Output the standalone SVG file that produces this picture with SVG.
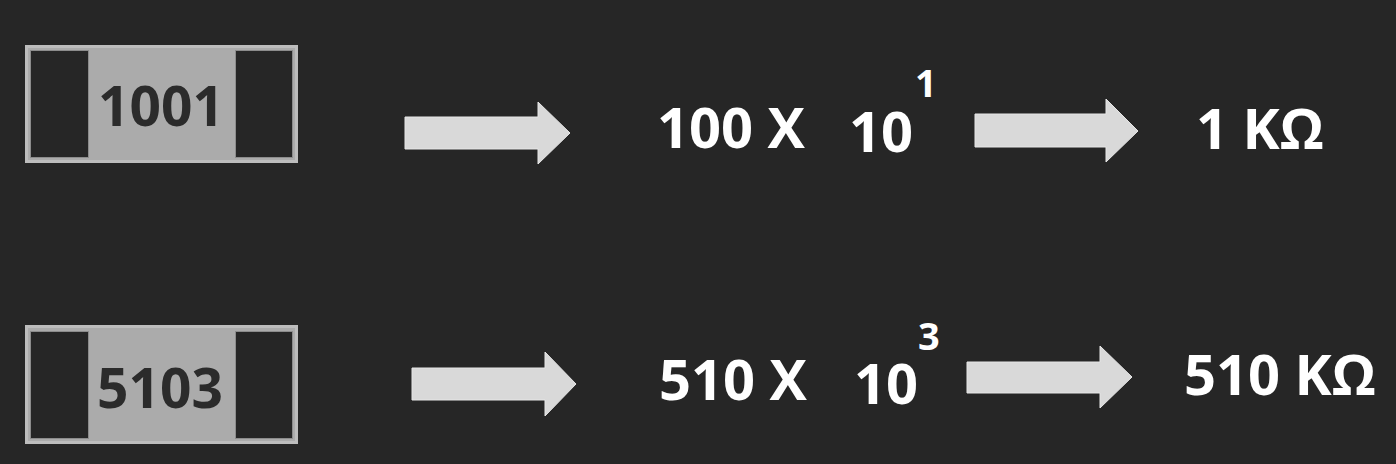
<svg xmlns="http://www.w3.org/2000/svg" width="1396" height="464" viewBox="0 0 1396 464">
  <style>
    .bg { fill: #262626; }
    .body { fill: #ababab; stroke: #bdbdbd; stroke-width: 3; }
    .pad { fill: #262626; stroke: #8c8c8c; stroke-width: 1; }
    .code { font-family: "Open Sans", "Liberation Sans", sans-serif; font-weight: 700; font-size: 55px; fill: #2b2b2b; text-anchor: middle; }
    .t { font-family: "Open Sans", "Liberation Sans", sans-serif; font-weight: 700; font-size: 56px; fill: #ffffff; }
    .sup { font-family: "Open Sans", "Liberation Sans", sans-serif; font-weight: 700; font-size: 38px; fill: #ffffff; }
    .arrow { fill: #d9d9d9; stroke: #e6e6e6; stroke-width: 1; }
  </style>
  <rect class="bg" x="0" y="0" width="1396" height="464"/>

  <g id="resistor-1001">
    <rect class="body" x="26.5" y="46.5" width="270" height="115"/>
    <rect class="pad" x="30.5" y="50.5" width="58" height="107"/>
    <rect class="pad" x="235.5" y="50.5" width="57" height="107"/>
    <text class="code" x="161" y="126">1001</text>
  </g>

  <g id="resistor-5103">
    <rect class="body" x="26.5" y="326.5" width="270" height="116"/>
    <rect class="pad" x="30.5" y="331.5" width="58" height="107"/>
    <rect class="pad" x="235.5" y="331.5" width="57" height="107"/>
    <text class="code" x="160" y="408">5103</text>
  </g>

  <g id="expr-1">
    <text class="t" x="657" y="148">100 X</text>
    <text class="t" x="849" y="152">10</text>
    <text class="sup" x="915" y="97">1</text>
  </g>

  <g id="result-1">
    <text class="t" x="1196" y="149">1 KΩ</text>
  </g>

  <g id="expr-2">
    <text class="t" x="659" y="400">510 X</text>
    <text class="t" x="854" y="404">10</text>
    <text class="sup" x="918" y="350">3</text>
  </g>

  <g id="result-2">
    <text class="t" x="1184" y="395">510 KΩ</text>
  </g>

  <g id="connectors">
    <polygon class="arrow" points="405,117 538,117 538,102 570,133 538,164 538,149 405,149"/>
    <polygon class="arrow" points="975,114 1106,114 1106,99 1138,131 1106,162 1106,147 975,147"/>
    <polygon class="arrow" points="412,368 545,368 545,352 576,384 545,416 545,400 412,400"/>
    <polygon class="arrow" points="967,362 1100,362 1100,346 1132,377 1100,408 1100,393 967,393"/>
  </g>
</svg>
